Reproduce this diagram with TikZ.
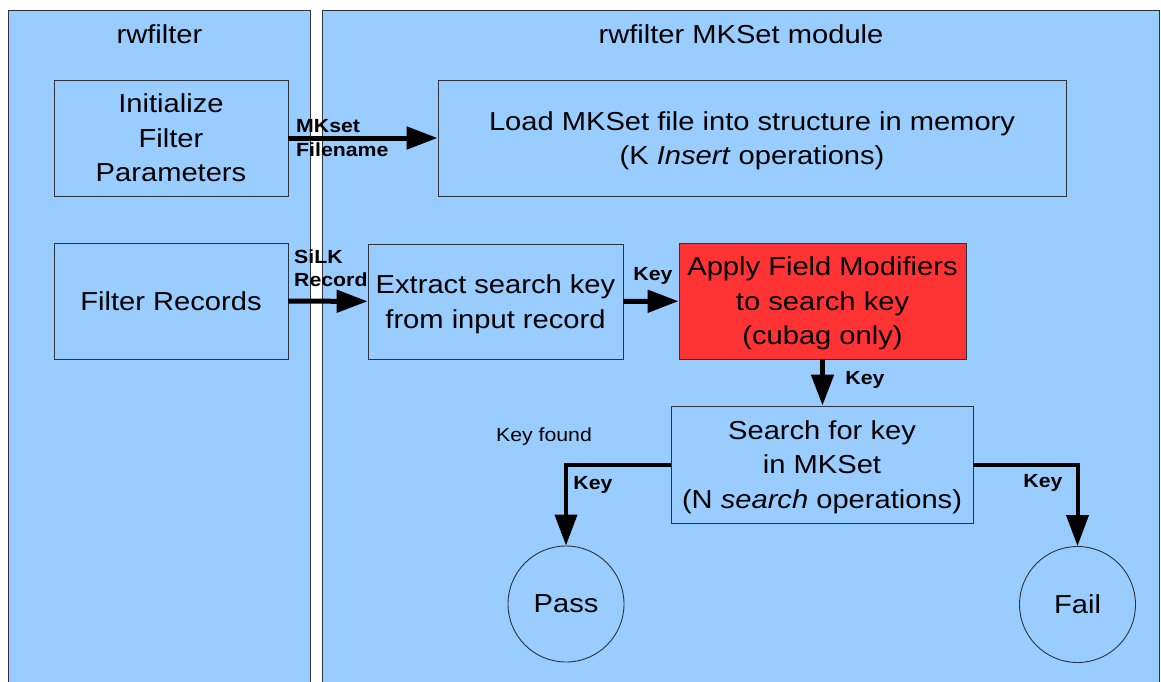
\documentclass[tikz,border=0pt]{standalone}
\usepackage{fontspec}
\setmainfont[FakeStretch=1.12]{Liberation Sans}
\usetikzlibrary{arrows.meta}
\definecolor{panelblue}{RGB}{153,204,255}
\definecolor{boxred}{RGB}{255,51,51}
\definecolor{edgegray}{RGB}{45,50,60}
\begin{document}
\begin{tikzpicture}[
    x=1pt, y=-1pt,
    panel/.style={draw=edgegray, line width=0.9pt, fill=panelblue},
    block/.style={draw=edgegray, line width=0.9pt, align=center, inner sep=0pt,
        text depth=0pt, font=\fontsize{26}{34.5}\selectfont},
    endpoint/.style={circle, draw=edgegray, line width=0.9pt, minimum size=116pt,
        inner sep=0pt, font=\fontsize{26}{34.5}\selectfont},
    flow/.style={line width=5pt, -{Triangle[length=31pt, width=22pt]}},
    tag/.style={font=\fontsize{19}{23.5}\selectfont\bfseries, align=left, inner sep=0pt},
]
    \clip (0,0) rectangle (1161,682);
    \fill[white] (0,0) rectangle (1161,682);

    % Panels
    \draw[panel] (8,10) rectangle (310,700);
    \draw[panel] (322,10) rectangle (1159,700);
    \node[font=\fontsize{26}{34.5}\selectfont] (title1) at (159.5,34) {rwfilter};
    \node[font=\fontsize{26}{34.5}\selectfont] (title2) at (741,34) {rwfilter MKSet module};

    % Boxes
    \node[block, minimum width=234pt, minimum height=116pt] (init) at (171,138)
        {Initialize\\Filter\\Parameters};
    \node[block, minimum width=628pt, minimum height=116pt] (load) at (752,138)
        {Load MKSet file into structure in memory\\(K \textit{Insert} operations)};
    \node[block, minimum width=234pt, minimum height=116pt] (filt) at (171,301)
        {Filter Records};
    \node[block, minimum width=255pt, minimum height=115pt] (extract) at (495.5,301.5)
        {Extract search key\\from input record};
    \node[block, fill=boxred, minimum width=287pt, minimum height=116pt] (apply) at (822.5,301)
        {Apply Field Modifiers\\to search key\\(cubag only)};
    \node[block, minimum width=302pt, minimum height=117pt] (search) at (822,464.5)
        {Search for key\\in MKSet\\(N \textit{search} operations)};
    \node[endpoint] (pass) at (566,604) {Pass};
    \node[endpoint] (fail) at (1077.5,604.5) {Fail};

    % Arrows
    \draw[flow] (init) -- (load);
    \draw[flow] (filt) -- (extract);
    \draw[flow] (extract) -- (apply);
    \draw[flow] (apply.south) -- (apply.south |- search.north);
    \draw[flow, line width=4pt] (search.west) -| (pass.north);
    \draw[flow, line width=4pt] (search.east) -| (fail.north);

    % Arrow labels
    \node[tag, anchor=west] (fname) at (296,138) {MKset\\Filename};
    \node[tag, anchor=west] (rec) at (294,268) {SiLK\\Record};
    \node[tag] (key1) at (653,276) {Key};
    \node[tag] (key2) at (865,380) {Key};
    \node[tag] (key3) at (593,485) {Key};
    \node[tag] (key4) at (1043,483) {Key};
    \node[font=\fontsize{19}{24}\selectfont, inner sep=0pt] (found) at (544,437) {Key found};

\end{tikzpicture}
\end{document}
